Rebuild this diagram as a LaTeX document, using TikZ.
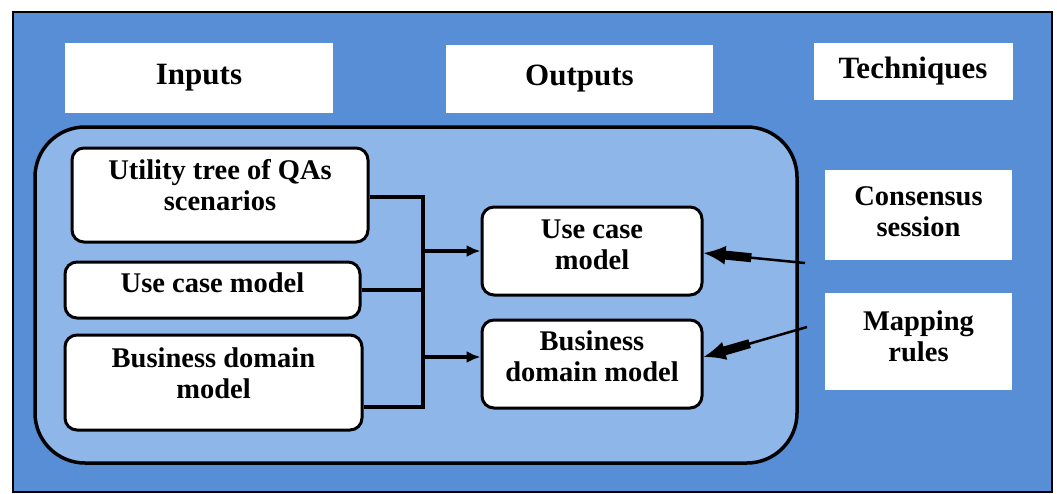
\documentclass[tikz,border=0pt]{standalone}
\usepackage{fontspec}
\setmainfont{Liberation Serif}
\usetikzlibrary{arrows.meta,calc}
\definecolor{outerblue}{RGB}{88,142,214}
\definecolor{innerblue}{RGB}{142,182,232}
\begin{document}
\begin{tikzpicture}[x=1pt,y=-1pt,
  hdr/.style={fill=white,draw=none,font=\fontsize{31}{33}\selectfont\bfseries,align=center,inner sep=0pt},
  boxw/.style={fill=white,draw=black,line width=3pt,rounded corners=12pt,font=\fontsize{28.5}{31}\selectfont\bfseries,align=center,inner sep=0pt},
  tech/.style={fill=white,draw=none,font=\fontsize{28.5}{31}\selectfont\bfseries,align=center,inner sep=0pt},
  conn/.style={draw=black,line width=3.2pt},
  arr/.style={conn,-{Latex[length=14pt,width=12pt]}},
  bigarr/.style={draw=black,line width=2.5pt,-{Latex[length=22pt,width=19pt]}},
  shaft/.style={draw=black,line width=9pt}]
\useasboundingbox (0,0) rectangle (1057,493);
\fill[white] (0,0) rectangle (1057,493);
% outer frame
\node[draw=black,line width=2pt,fill=outerblue,minimum width=1039pt,minimum height=480pt,inner sep=0pt] (frame) at (532.5,252) {};
% headers
\node[hdr,minimum width=268pt,minimum height=70pt] (inputs) at (199,78) {Inputs};
\node[hdr,minimum width=267pt,minimum height=68pt] (outputs) at (579.5,79) {Outputs};
\node[hdr,minimum width=199pt,minimum height=57pt] (techniques) at (913,71.5) {Techniques};
% inner rounded container
\node[draw=black,line width=3.5pt,fill=innerblue,rounded corners=50pt,minimum width=762pt,minimum height=336pt,inner sep=0pt] (inner) at (416,295) {};
% left boxes
\node[boxw,minimum width=296pt,minimum height=94pt] (util) at (220,195) {Utility tree of QAs\\scenarios\\[-11pt]};
\node[boxw,minimum width=295pt,minimum height=56pt] (ucm) at (212.5,290) {Use case model\\[-17pt]};
\node[boxw,minimum width=297pt,minimum height=95pt] (bdm) at (213.5,382.5) {Business domain\\model\\[-13pt]};
% middle boxes
\node[boxw,minimum width=220pt,minimum height=88pt] (ucm2) at (592,251) {Use case\\model\\[-18pt]};
\node[boxw,minimum width=220pt,minimum height=88pt] (bdm2) at (592,364) {Business\\domain model\\[-15pt]};
% technique boxes
\node[tech,minimum width=187pt,minimum height=90pt] (cons) at (918.5,215) {Consensus\\session\\[-24pt]};
\node[tech,minimum width=187pt,minimum height=97pt] (map) at (918.5,341.5) {Mapping\\rules\\[-21pt]};
% junction
\coordinate (jt) at (423,197);
\coordinate (jb) at (423,407);
\draw[conn] (util.east|-jt) -- (jt) -- (jb) -- (bdm.east|-jb);
\draw[conn] (ucm.east) -- (jt|-ucm.east);
\draw[arr] (jt|-ucm2.west) -- (ucm2.west);
\draw[arr] ($(jt|-bdm2.west)+(0,-7)$) -- ($(bdm2.west)+(0,-7)$);
% technique arrows
\coordinate (c1) at (805,263);
\coordinate (c2) at (807,327);
\coordinate (t1) at ($(ucm2.east)+(0,2)$);
\coordinate (t2) at ($(bdm2.east)+(0,-7)$);
\draw[bigarr] (c1) -- (t1);
\draw[shaft] ($(t1)!18pt!(c1)$) -- ($(t1)!48pt!(c1)$);
\draw[bigarr] (c2) -- (t2);
\draw[shaft] ($(t2)!18pt!(c2)$) -- ($(t2)!48pt!(c2)$);
\end{tikzpicture}
\end{document}
